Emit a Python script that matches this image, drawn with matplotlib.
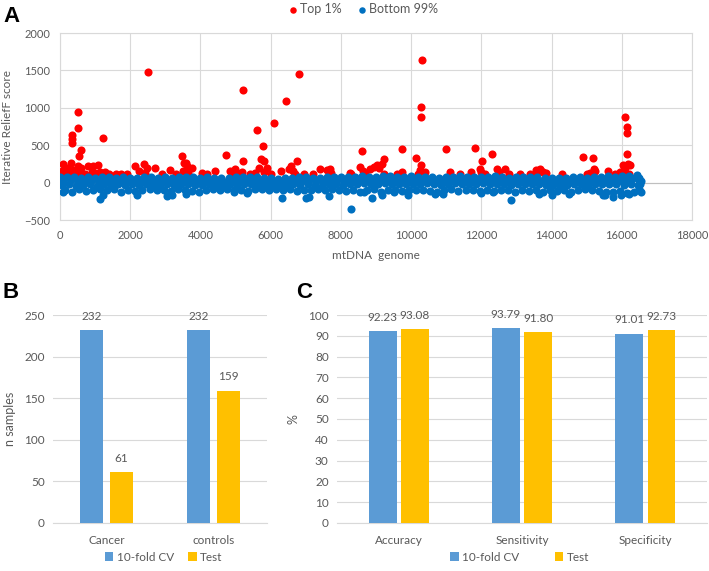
import numpy as np
import matplotlib
matplotlib.use('Agg')
import matplotlib.pyplot as plt

plt.rcParams['font.family'] = ['Lato', 'DejaVu Sans']

# ---------------- Panel A data ----------------
red_x = [50, 95, 190, 140, 250, 333, 333, 333, 314, 290, 380,
         522, 522, 598, 543, 505, 543, 600, 460,
         810, 952, 1095, 904, 700, 1000, 1140,
         1233, 1290, 1400, 1600, 1750, 1900,
         2142, 2380, 2475, 2500, 2250, 2420,
         2713, 2900, 3142, 3300,
         3466, 3523, 3580, 3620, 3760, 3500, 3650,
         4046, 4427, 4200,
         4728, 4855, 4998, 5050, 5188, 4920,
         5221, 5221, 5400,
         5620, 5773, 5712, 5807, 5665, 5903, 5800, 5550,
         6095, 6000,
         6283, 6436, 6569, 6521, 6650, 6700,
         6758, 6807, 6950,
         7395, 7600, 7700, 7720, 7200,
         8282, 8544, 8592, 8250, 8620,
         8840, 8934, 9029, 9170, 9228, 9100, 9217, 8700,
         9731, 9755, 9600,
         10139, 10283, 10300, 10282, 10282, 10255, 10396, 10200,
         10993, 11103,
         11386, 11716, 11819, 11952, 12028, 11980, 12100,
         12294, 12437, 12687, 12500, 12800, 13100,
         13554, 13670, 13700, 13743, 13600, 13400, 13850, 14300,
         14904, 15171, 15205, 15237, 15016, 15100,
         15616, 15800,
         15960, 16043, 16101, 16148, 16148, 16148, 16177, 16054, 16232, 16200, 16100]
red_y = [155, 245, 200, 130, 120, 636, 582, 529, 268, 150, 170,
         940, 735, 436, 357, 223, 156, 200, 130,
         223, 223, 232, 143, 120, 130, 140,
         592, 140, 120, 115, 120, 115,
         223, 245, 200, 1475, 150, 130,
         200, 120, 170, 115,
         350, 268, 268, 220, 200, 150, 130,
         134, 156, 115,
         369, 156, 178, 130, 143, 120,
         293, 1238, 120,
         703, 489, 312, 290, 200, 200, 140, 130,
         801, 120,
         156, 1095, 223, 178, 150, 120,
         293, 1452, 120,
         178, 170, 178, 130, 115,
         112, 213, 422, 130, 150,
         187, 210, 241, 254, 311, 200, 120, 130,
         445, 143, 120,
         325, 235, 1639, 1015, 881, 165, 143, 120,
         445, 143,
         120, 143, 458, 187, 293, 140, 120,
         382, 182, 187, 140, 120, 115,
         165, 182, 150, 143, 130, 115, 130, 115,
         346, 325, 180, 150, 120, 130,
         155, 120,
         143, 235, 881, 747, 659, 383, 254, 165, 235, 120, 200]

band_x = np.arange(0, 16600, 200)
band_hi = [70, 80, 75, 65, 70, 60, 75, 70, 65, 70,
           60, 65, 70, 75, 65, 70, 60, 75, 80, 70,
           65, 70, 60, 55, 60, 70, 75, 80, 70, 65,
           60, 50, 55, 65, 70, 75, 65, 60, 70, 80,
           75, 70, 80, 85, 75, 80, 90, 85, 80, 75,
           85, 80, 75, 70, 65, 75, 80, 85, 75, 70,
           80, 75, 85, 70, 65, 75, 80, 70, 75, 60,
           65, 55, 60, 70, 75, 65, 70, 80, 85, 75,
           85, 90, 80]
band_q1 = [20, 30, 10, 25, 35, 15, 20, 30, 10, 25,
           15, 20, 30, 10, 20, 25, 15, 30, 35, 20,
           10, 25, 15, 5, 20, 15, 25, 35, 20, 10,
           5, 0, 10, 20, 25, 30, 15, 5, 20, 30,
           25, 30, 35, 40, 25, 30, 40, 35, 30, 25,
           35, 30, 40, 25, 20, 30, 35, 30, 25, 30,
           35, 25, 30, 20, 15, 25, 30, 20, 25, 10,
           15, 5, 10, 25, 30, 15, 20, 30, 35, 25,
           40, 45, 35]
band_mid = [-35, -25, -45, -30, -20, -40, -25, -35, -20, -30,
            -25, -35, -20, -30, -40, -20, -35, -25, -15, -30,
            -35, -25, -40, -30, -20, -35, -25, -15, -30, -35,
            -40, -45, -35, -25, -30, -20, -35, -40, -25, -20,
            -30, -20, -15, -10, -25, -15, -10, -20, -15, -25,
            -15, -20, -10, -25, -30, -15, -10, -20, -25, -15,
            -10, -20, -15, -25, -30, -20, -15, -25, -20, -35,
            -30, -40, -35, -25, -20, -30, -25, -15, -20, -25,
            -30, -25, -35]
band_lo = [-100, -120, -90, -110, -95, -85, -100, -90, -120, -95,
           -110, -100, -90, -105, -95, -110, -85, -100, -110, -120,
           -100, -90, -105, -85, -95, -100, -110, -90, -80, -95,
           -90, -100, -85, -110, -95, -105, -90, -100, -85, -95,
           -110, -95, -120, -100, -90, -130, -105, -95, -115, -100,
           -105, -95, -110, -120, -100, -90, -115, -105, -95, -110,
           -100, -115, -95, -105, -120, -100, -110, -95, -120, -105,
           -110, -95, -120, -100, -90, -105, -115, -130, -120, -110,
           -140, -130, -120]
out_x = [95, 1130, 1238, 2190, 3046, 3190, 3600, 4950, 5331, 6331, 7000, 7080,
         7652, 8290, 8652, 8887, 9170, 9500, 9925, 10679, 10915, 12000, 12329,
         12848, 13650, 14027, 14500, 15460, 15520, 15743, 15980, 16196,
         16480, 16520, 16560, 16500, 16420]
out_y = [-130, -225, -160, -170, -175, -160, -150, -120, -140, -200, -200, -190,
         -180, -355, -130, -205, -170, -130, -160, -150, -150, -140, -130,
         -236, -150, -170, -150, -170, -170, -192, -160, -150,
         60, -20, 20, -90, 100]

# ---------------- Panel B / C data ----------------
b_cats = ['Cancer', 'controls']
b_cv = [232, 232]
b_test = [61, 159]
c_cats = ['Accuracy', 'Sensitivity', 'Specificity']
c_cv = [92.23, 93.79, 91.01]
c_test = [93.08, 91.80, 92.73]
series_names = ['10-fold CV', 'Test']

TXT = '#595959'
GRID = '#D9D9D9'
BLUE_BAR = '#5B9BD5'
YELLOW = '#FFC000'

fig = plt.figure(figsize=(7.09, 5.71), dpi=100)

# ---------------- Panel A ----------------
axA = fig.add_axes([0.0846, 0.6147, 0.8914, 0.3275])
blue_x = np.concatenate([band_x, band_x + 100, band_x + 50, band_x + 150, out_x])
blue_y = np.concatenate([band_hi, band_q1, band_mid, band_lo, out_y])
axA.scatter(red_x, red_y, s=34, c='#FF0000', linewidths=0, zorder=3, label='Top 1%')
axA.scatter(blue_x, blue_y, s=34, c='#0070C0', linewidths=0, zorder=4, label='Bottom 99%')
axA.set_xlim(0, 18000)
axA.set_ylim(-500, 2000)
axA.set_xticks(range(0, 18001, 2000))
axA.set_yticks(range(-500, 2001, 500))
axA.grid(True, color=GRID, linewidth=0.8)
axA.set_axisbelow(True)
axA.axhline(0, color='#BFBFBF', linewidth=0.8, zorder=1)
for s in axA.spines.values():
    s.set_color(GRID)
    s.set_linewidth(0.8)
axA.tick_params(length=0, labelsize=8, colors=TXT, pad=7)
axA.set_xlabel('mtDNA  genome', fontsize=8.5, color=TXT, labelpad=7)
axA.set_ylabel('Iterative ReliefF score', fontsize=8.5, color=TXT, labelpad=8)
fig.legend(handles=axA.collections[:2], labels=['Top 1%', 'Bottom 99%'],
           loc='center', bbox_to_anchor=(0.51, 0.984), ncol=2, frameon=False,
           fontsize=9, labelcolor=TXT, handletextpad=0.0, columnspacing=1.0,
           markerscale=0.8, handlelength=1.2)


def bar_panel(ax, cats, v1, v2, width, off, ymax, step, fmt):
    x = np.arange(len(cats))
    b1 = ax.bar(x - off, v1, width, color=BLUE_BAR, zorder=3, label=series_names[0])
    b2 = ax.bar(x + off, v2, width, color=YELLOW, zorder=3, label=series_names[1])
    for bars, vals in ((b1, v1), (b2, v2)):
        for r, v in zip(bars, vals):
            ax.annotate(fmt.format(v), (r.get_x() + r.get_width() / 2, v),
                        xytext=(0, 6), textcoords='offset points',
                        ha='center', va='bottom', fontsize=8.5, color=TXT)
    ax.set_xlim(-0.5, len(cats) - 0.5)
    ax.set_ylim(0, ymax)
    ax.set_yticks(np.arange(0, ymax + 0.1, step))
    ax.set_xticks(x)
    ax.set_xticklabels(cats)
    ax.yaxis.grid(True, color=GRID, linewidth=0.8)
    ax.set_axisbelow(True)
    for k in ('left', 'right', 'top'):
        ax.spines[k].set_visible(False)
    ax.spines['bottom'].set_color(GRID)
    ax.spines['bottom'].set_linewidth(0.8)
    ax.tick_params(length=0, labelsize=8.5, colors=TXT)
    ax.tick_params(axis='x', pad=9)
    ax.tick_params(axis='y', pad=6)
    return b1, b2


# ---------------- Panel B ----------------
axB = fig.add_axes([0.0748, 0.0841, 0.3018, 0.3642])
hb = bar_panel(axB, b_cats, b_cv, b_test, 0.22, 0.14, 250, 50, '{:d}')
axB.set_ylabel('n samples', fontsize=9, color=TXT, labelpad=6)
fig.legend(handles=hb, labels=series_names, loc='center', bbox_to_anchor=(0.231, 0.0245),
           ncol=2, frameon=False, fontsize=8.5, labelcolor=TXT, handlelength=0.7,
           handleheight=0.7, handletextpad=0.3, columnspacing=1.2)

# ---------------- Panel C ----------------
axC = fig.add_axes([0.4753, 0.0841, 0.522, 0.3642])
hc = bar_panel(axC, c_cats, c_cv, c_test, 0.225, 0.13, 100, 10, '{:.2f}')
axC.set_ylabel('%', fontsize=9, color=TXT, labelpad=6)
fig.legend(handles=hc, labels=series_names, loc='center', bbox_to_anchor=(0.733, 0.0245),
           ncol=2, frameon=False, fontsize=8.5, labelcolor=TXT, handlelength=0.7,
           handleheight=0.7, handletextpad=0.3, columnspacing=3.0)

# Panel letters
for lab, (px, py) in (('A', (3, 17)), ('B', (3, 292)), ('C', (296, 292))):
    fig.text(px / 709, 1 - py / 571, lab, fontsize=16, fontweight='bold',
             family=['Liberation Sans', 'DejaVu Sans'], ha='left', va='center', color='black')

fig.savefig('out.png', dpi=100)
